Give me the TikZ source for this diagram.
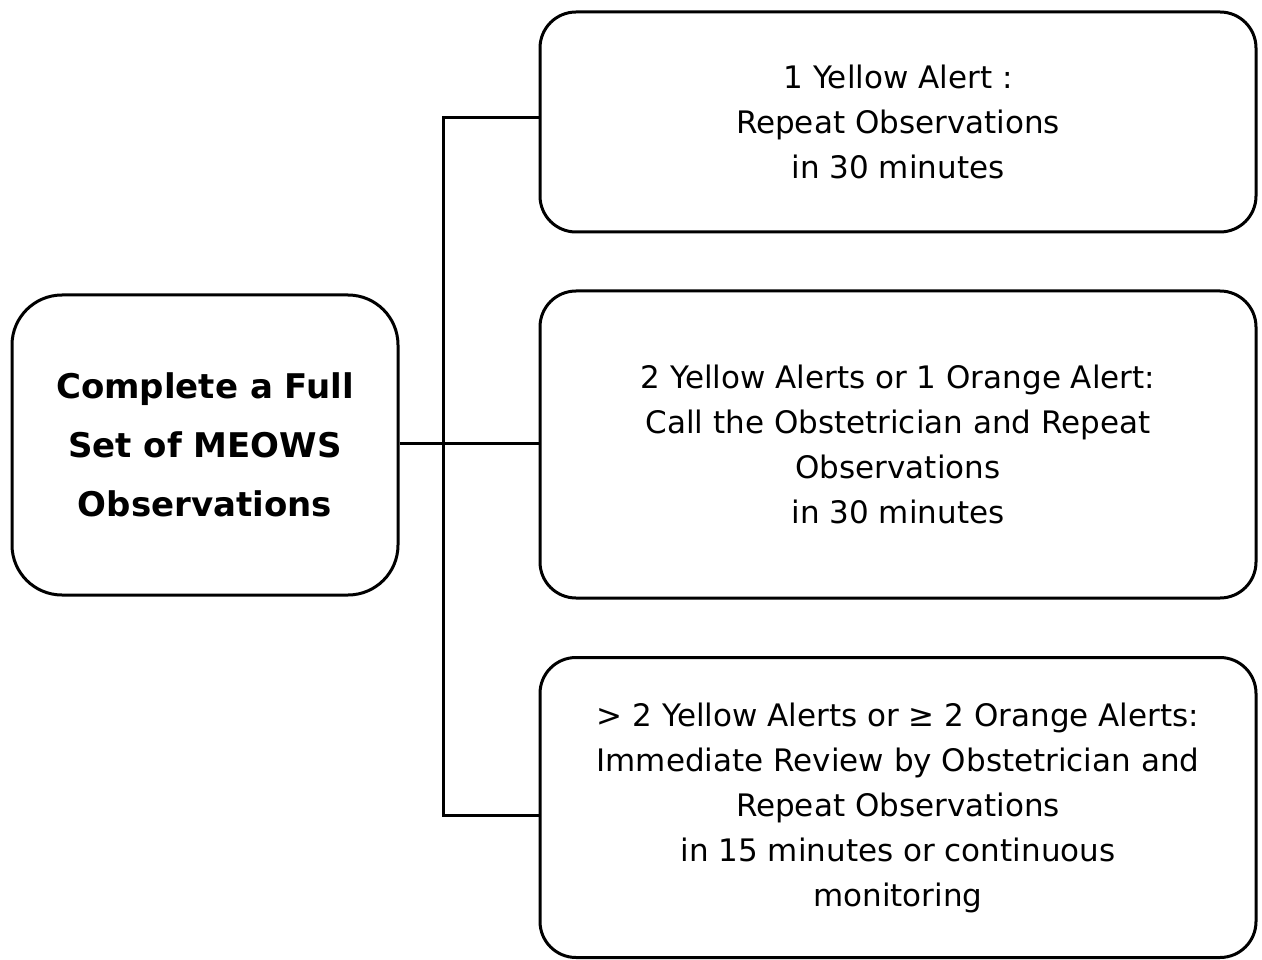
\documentclass[tikz,border=0pt]{standalone}
\usepackage{fontspec}
\setmainfont{DejaVu Sans}
\usetikzlibrary{calc}
\begin{document}
\begin{tikzpicture}[x=1pt,y=-1pt,
  box/.style={draw=black,line width=3pt,rounded corners=36pt,fill=white,
    align=center,inner sep=0pt,font=\fontsize{31}{45}\selectfont},
  mainbox/.style={box,rounded corners=50pt,font=\bfseries\fontsize{34}{59}\selectfont},
  link/.style={draw=black,line width=3pt}]
\useasboundingbox (0,0) rectangle (1262,960);
\node[mainbox,minimum width=386pt,minimum height=300pt] (L) at (205,445)
  {Complete a Full\\Set of MEOWS\\Observations};
\node[box,minimum width=716pt,minimum height=220pt] (B1) at (898,122)
  {1 Yellow Alert :\\Repeat Observations\\in 30 minutes};
\node[box,minimum width=716pt,minimum height=307pt] (B2) at (898,444.5)
  {2 Yellow Alerts or 1 Orange Alert:\\Call the Obstetrician and Repeat\\Observations\\in 30 minutes};
\node[box,minimum width=716pt,minimum height=300pt] (B3) at (898,807.5)
  {> 2 Yellow Alerts or ≥ 2 Orange Alerts:\\Immediate Review by Obstetrician and\\Repeat Observations\\in 15 minutes or continuous\\monitoring};
\coordinate (J) at (443,443);
\coordinate (T) at (443,118);
\coordinate (Bo) at (443,815);
\coordinate (E1) at (B1.west |- T);
\coordinate (E3) at (B3.west |- Bo);
\draw[link] (L.east |- J) -- (B2.west |- J);
\draw[link] (E1) -- (T) -- (Bo) -- (E3);
\end{tikzpicture}
\end{document}
